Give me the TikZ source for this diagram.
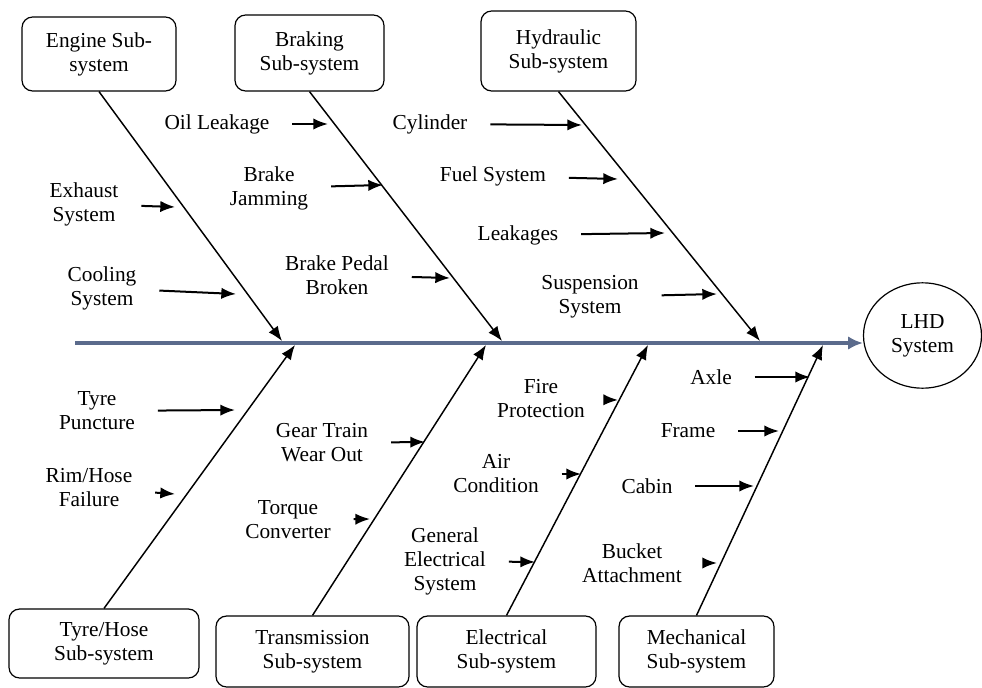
\documentclass[tikz,border=0pt]{standalone}
\usepackage{fontspec}
\setmainfont{Liberation Serif}
\usetikzlibrary{arrows.meta,shapes.geometric}
\definecolor{spinecol}{RGB}{91,107,140}
\begin{document}
\begin{tikzpicture}[x=0.75pt,y=-0.75pt,every node/.style={align=center,font=\fontsize{16}{18}\selectfont,inner sep=1pt},box/.style={draw,rounded corners=8pt,line width=0.9pt,inner sep=0pt},>={Latex[length=11pt,width=8.5pt]},bone/.style={->,line width=1.1pt},cause/.style={->,line width=1.5pt,shorten <=16pt},spine/.style={-{Latex[length=11pt,width=10pt]},line width=3pt,draw=spinecol}]
\useasboundingbox (0,0) rectangle (982,688);
\node[box,minimum width=115.5pt,minimum height=55.5pt] (eng) at (99,54) {Engine Sub-\\system};
\node[box,minimum width=111.75pt,minimum height=57pt] (brk) at (309.5,53) {Braking\\Sub-system};
\node[box,minimum width=116.25pt,minimum height=60pt] (hyd) at (558.5,51) {Hydraulic\\Sub-system};
\node[box,minimum width=142.5pt,minimum height=51.75pt] (tyr) at (104,643.5) {Tyre/Hose\\Sub-system};
\node[box,minimum width=144.75pt,minimum height=53.25pt] (trn) at (312.5,651.5) {Transmission\\Sub-system};
\node[box,minimum width=134.25pt,minimum height=53.25pt] (ele) at (506.5,651.5) {Electrical\\Sub-system};
\node[box,minimum width=116.25pt,minimum height=53.25pt] (mec) at (696.5,651.5) {Mechanical\\Sub-system};
\node[draw,ellipse,line width=0.9pt,minimum width=88.5pt,minimum height=79pt,inner sep=0pt] (lhd) at (922.5,335.5) {LHD\\System};
\coordinate (tail) at (75,343);
\coordinate (jEng) at (282,341);
\coordinate (jBrk) at (502,341);
\coordinate (jHyd) at (760,341);
\coordinate (jTyr) at (295,345);
\coordinate (jTrn) at (486,345);
\coordinate (jEle) at (648,345);
\coordinate (jMec) at (823,345);
\draw[spine] (tail) -- (tail -| lhd.west);
\draw[bone] (eng.south) -- (jEng);
\draw[bone] (brk.south) -- (jBrk);
\draw[bone] (hyd.south) -- (jHyd);
\draw[bone] (tyr.north) -- (jTyr);
\draw[bone] (trn.north) -- (jTrn);
\draw[bone] (ele.north) -- (jEle);
\draw[bone] (mec.north) -- (jMec);
\node (oil) at (217,124) {Oil Leakage};
\node (exh) at (84,204) {Exhaust\\System};
\node (jam) at (269,188) {Brake\\Jamming};
\node (cool) at (102,288) {Cooling\\System};
\node (ped) at (337,275) {Brake Pedal\\Broken};
\node (cyl) at (430,124) {Cylinder};
\node (fuel) at (493,176) {Fuel System};
\node (leak) at (518,235) {Leakages};
\node (susp) at (590,297) {Suspension\\System};
\node (pun) at (97,411) {Tyre\\Puncture};
\node (rim) at (89,488) {Rim/Hose\\Failure};
\node (gear) at (322,443) {Gear Train\\Wear Out};
\node (torq) at (288,520) {Torque\\Converter};
\node (fire) at (541,399) {Fire\\Protection};
\node (air) at (496,474) {Air\\Condition};
\node (gen) at (445,561) {General\\Electrical\\System};
\node (axle) at (711,377) {Axle};
\node (frm) at (688,431) {Frame};
\node (cab) at (647,486) {Cabin};
\node (bkt) at (632,563) {Bucket\\Attachment};
\coordinate (tOil) at (328,124);
\coordinate (tExh) at (175,207);
\coordinate (tJam) at (383,185);
\coordinate (tCool) at (236,294);
\coordinate (tPed) at (450,278);
\coordinate (tCyl) at (582,125);
\coordinate (tFuel) at (618,179);
\coordinate (tLeak) at (665,233);
\coordinate (tSusp) at (717,294);
\coordinate (tPun) at (235,410);
\coordinate (tRim) at (175,494);
\coordinate (tGear) at (425,442);
\coordinate (tTorq) at (370,519);
\coordinate (tFire) at (618,400);
\coordinate (tAir) at (581,474);
\coordinate (tGen) at (535,562);
\coordinate (tAxle) at (810,377);
\coordinate (tFrm) at (779,431);
\coordinate (tCab) at (754,486);
\coordinate (tBkt) at (717,563);
\draw[cause] (oil) -- (tOil);
\draw[cause] (exh) -- (tExh);
\draw[cause] (jam) -- (tJam);
\draw[cause] (cool) -- (tCool);
\draw[cause] (ped) -- (tPed);
\draw[cause] (cyl) -- (tCyl);
\draw[cause] (fuel) -- (tFuel);
\draw[cause] (leak) -- (tLeak);
\draw[cause] (susp) -- (tSusp);
\draw[cause] (pun) -- (tPun);
\draw[cause] (rim) -- (tRim);
\draw[cause] (gear) -- (tGear);
\draw[cause] (torq) -- (tTorq);
\draw[cause] (fire) -- (tFire);
\draw[cause] (air) -- (tAir);
\draw[cause] (gen) -- (tGen);
\draw[cause] (axle) -- (tAxle);
\draw[cause] (frm) -- (tFrm);
\draw[cause] (cab) -- (tCab);
\draw[cause] (bkt) -- (tBkt);
\end{tikzpicture}
\end{document}
